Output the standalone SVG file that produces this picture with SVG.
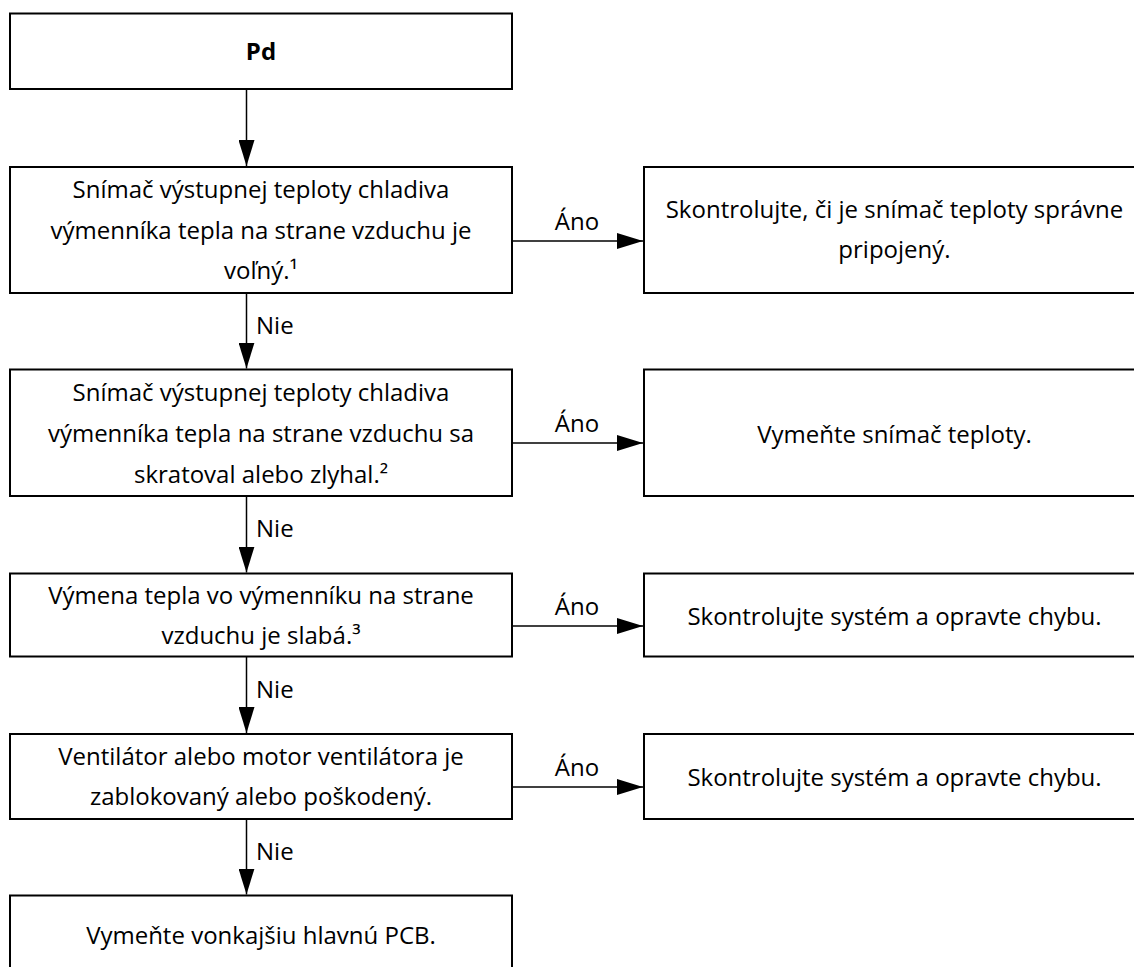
<svg xmlns="http://www.w3.org/2000/svg" width="1134" height="967" viewBox="0 0 1134 967">
  <defs>
    <style>
      .box { fill: #ffffff; stroke: #000000; stroke-width: 2; }
      .txt { font-family: "Open Sans", "Liberation Sans", sans-serif; font-size: 24px; fill: #000000; text-anchor: middle; }
      .bold { font-weight: bold; }
      .lbl { font-family: "Open Sans", "Liberation Sans", sans-serif; font-size: 24px; fill: #000000; }
      .conn { stroke: #000000; stroke-width: 1.5; fill: none; marker-end: url(#arrow); }
    </style>
    <marker id="arrow" markerUnits="userSpaceOnUse" markerWidth="26" markerHeight="16" refX="26" refY="8" orient="auto">
      <path d="M0,0 L26,8 L0,16 Z" fill="#000000"/>
    </marker>
  </defs>
  <rect width="1134" height="967" fill="#ffffff"/>

  <g id="connectors">
    <line class="conn" x1="246.5" y1="89.5" x2="246.5" y2="166"/>
    <line class="conn" x1="246.5" y1="293" x2="246.5" y2="368.5"/>
    <line class="conn" x1="246.5" y1="496" x2="246.5" y2="572.5"/>
    <line class="conn" x1="246.5" y1="656.5" x2="246.5" y2="733"/>
    <line class="conn" x1="246.5" y1="819" x2="246.5" y2="894.5"/>
    <line class="conn" x1="513" y1="241" x2="643" y2="241"/>
    <line class="conn" x1="513" y1="443" x2="643" y2="443"/>
    <line class="conn" x1="513" y1="626" x2="643" y2="626"/>
    <line class="conn" x1="513" y1="787" x2="643" y2="787"/>
    <text class="lbl" x="577" y="229.5" text-anchor="middle">Áno</text>
    <text class="lbl" x="577" y="431.5" text-anchor="middle">Áno</text>
    <text class="lbl" x="577" y="614.5" text-anchor="middle">Áno</text>
    <text class="lbl" x="577" y="775.5" text-anchor="middle">Áno</text>
    <text class="lbl" x="256" y="333.5">Nie</text>
    <text class="lbl" x="256" y="537">Nie</text>
    <text class="lbl" x="256" y="698">Nie</text>
    <text class="lbl" x="256" y="860">Nie</text>
  </g>

  <g id="n_pd">
    <rect class="box" x="10" y="13.5" width="502" height="75.5"/>
    <text class="txt bold" x="261" y="60">Pd</text>
  </g>

  <g id="n_q1">
    <rect class="box" x="10" y="167" width="502" height="126"/>
    <text class="txt" x="261" y="198">Snímač výstupnej teploty chladiva</text>
    <text class="txt" x="261" y="238.5">výmenníka tepla na strane vzduchu je</text>
    <text class="txt" x="261" y="279">voľný.¹</text>
  </g>

  <g id="n_a1">
    <rect class="box" x="644" y="167" width="501" height="126"/>
    <text class="txt" x="894.5" y="218">Skontrolujte, či je snímač teploty správne</text>
    <text class="txt" x="894.5" y="258">pripojený.</text>
  </g>

  <g id="n_q2">
    <rect class="box" x="10" y="369.5" width="502" height="126.5"/>
    <text class="txt" x="261" y="400.5">Snímač výstupnej teploty chladiva</text>
    <text class="txt" x="261" y="441.5">výmenníka tepla na strane vzduchu sa</text>
    <text class="txt" x="261" y="482.5">skratoval alebo zlyhal.²</text>
  </g>

  <g id="n_a2">
    <rect class="box" x="644" y="369.5" width="501" height="126.5"/>
    <text class="txt" x="894.5" y="443">Vymeňte snímač teploty.</text>
  </g>

  <g id="n_q3">
    <rect class="box" x="10" y="573.5" width="502" height="83"/>
    <text class="txt" x="261" y="603.5">Výmena tepla vo výmenníku na strane</text>
    <text class="txt" x="261" y="643.5">vzduchu je slabá.³</text>
  </g>

  <g id="n_a3">
    <rect class="box" x="644" y="573.5" width="501" height="83"/>
    <text class="txt" x="894.5" y="625">Skontrolujte systém a opravte chybu.</text>
  </g>

  <g id="n_q4">
    <rect class="box" x="10" y="734" width="502" height="85"/>
    <text class="txt" x="261" y="764.5">Ventilátor alebo motor ventilátora je</text>
    <text class="txt" x="261" y="805">zablokovaný alebo poškodený.</text>
  </g>

  <g id="n_a4">
    <rect class="box" x="644" y="734" width="501" height="85"/>
    <text class="txt" x="894.5" y="786">Skontrolujte systém a opravte chybu.</text>
  </g>

  <g id="n_end">
    <rect class="box" x="10" y="895.5" width="502" height="100"/>
    <text class="txt" x="261" y="944">Vymeňte vonkajšiu hlavnú PCB.</text>
  </g>
</svg>
